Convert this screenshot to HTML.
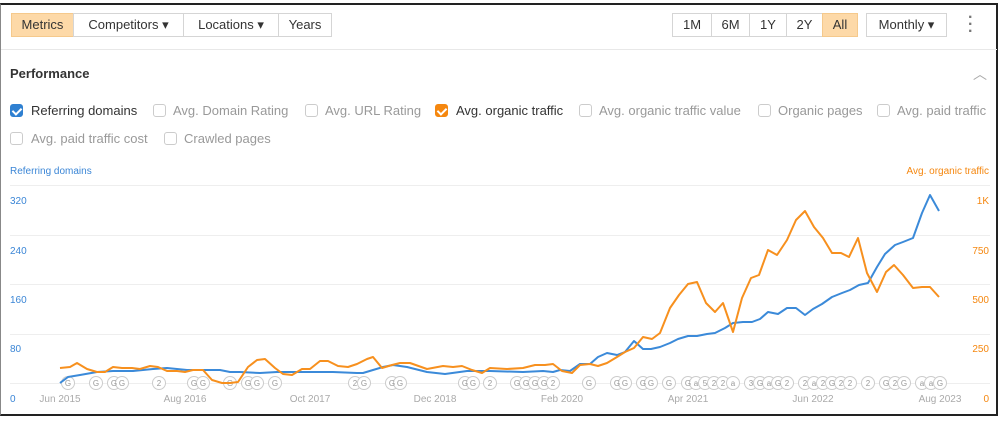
<!DOCTYPE html>
<html><head><meta charset="utf-8"><style>
body{margin:0;width:1006px;height:422px;background:#fff;font-family:"Liberation Sans",Arial,sans-serif;overflow:hidden;position:relative}
.frame{position:absolute;left:0;top:3px;width:998px;height:413px;border:2px solid #222;border-left:1px solid #888;box-sizing:border-box}
.a{position:absolute;white-space:nowrap}
.btn{position:absolute;top:13px;height:24px;border:1px solid #d5d5d5;box-sizing:border-box;font-size:13px;color:#333;line-height:22px;text-align:center;background:#fff}
.on{background:#fdd9a8;border-color:#f5c98c}
.cb{position:absolute;width:13px;height:13px;border:1px solid #ccc;border-radius:3px;box-sizing:border-box;background:#fff}
.cb.b{background:#2f80d1;border-color:#2f80d1}
.cb.o{background:#f5870f;border-color:#f5870f}
.cb.b::after,.cb.o::after{content:"";position:absolute;left:3px;top:1px;width:4px;height:7px;border:solid #fff;border-width:0 2px 2px 0;transform:rotate(45deg)}
.lbl{position:absolute;font-size:13px;color:#999}
</style></head><body>
<div class="frame"></div>
<div class="btn on" style="left:11px;width:63px">Metrics</div>
<div class="btn" style="left:73px;width:111px">Competitors ▾</div>
<div class="btn" style="left:183px;width:96px">Locations ▾</div>
<div class="btn" style="left:278px;width:54px">Years</div>
<div class="btn" style="left:672px;width:40px">1M</div>
<div class="btn" style="left:711px;width:39px">6M</div>
<div class="btn" style="left:749px;width:38px">1Y</div>
<div class="btn" style="left:786px;width:37px">2Y</div>
<div class="btn on" style="left:822px;width:36px">All</div>
<div class="btn" style="left:866px;width:81px">Monthly ▾</div>
<div class="a" style="left:968px;top:14px;font-size:16px;color:#777;line-height:7px;font-weight:bold">·<br>·<br>·</div>
<div style="position:absolute;left:1px;top:49px;width:996px;height:1px;background:#e8e8e8"></div>
<div class="a" style="left:10px;top:66px;font-size:13px;font-weight:bold;color:#333">Performance</div>
<div class="a" style="left:973px;top:64px;font-size:14px;color:#aaa">︿</div>

<div class="cb b" style="left:10px;top:104px"></div><div class="lbl" style="left:31px;top:103px;color:#333">Referring domains</div>
<div class="cb" style="left:153px;top:104px"></div><div class="lbl" style="left:173px;top:103px">Avg. Domain Rating</div>
<div class="cb" style="left:305px;top:104px"></div><div class="lbl" style="left:325px;top:103px">Avg. URL Rating</div>
<div class="cb o" style="left:435px;top:104px"></div><div class="lbl" style="left:456px;top:103px;color:#333">Avg. organic traffic</div>
<div class="cb" style="left:579px;top:104px"></div><div class="lbl" style="left:599px;top:103px">Avg. organic traffic value</div>
<div class="cb" style="left:758px;top:104px"></div><div class="lbl" style="left:778px;top:103px">Organic pages</div>
<div class="cb" style="left:877px;top:104px"></div><div class="lbl" style="left:897px;top:103px">Avg. paid traffic</div>
<div class="cb" style="left:10px;top:132px"></div><div class="lbl" style="left:31px;top:131px">Avg. paid traffic cost</div>
<div class="cb" style="left:164px;top:132px"></div><div class="lbl" style="left:184px;top:131px">Crawled pages</div>

<svg width="1006" height="422" style="position:absolute;left:0;top:0" font-family="Liberation Sans, Arial, sans-serif">
<text x="10" y="174" font-size="10" fill="#3b86d6">Referring domains</text>
<text x="989" y="174" font-size="10" fill="#f5870f" text-anchor="end">Avg. organic traffic</text>
<g stroke="#eee" stroke-width="1">
<line x1="10" x2="990" y1="185.5" y2="185.5"/><line x1="10" x2="990" y1="235.5" y2="235.5"/>
<line x1="10" x2="990" y1="284.5" y2="284.5"/><line x1="10" x2="990" y1="334.5" y2="334.5"/>
<line x1="10" x2="990" y1="383.5" y2="383.5"/></g>
<g font-size="10" fill="#3b86d6"><text x="10" y="204">320</text><text x="10" y="254">240</text><text x="10" y="303">160</text><text x="10" y="352">80</text><text x="10" y="402">0</text></g>
<g font-size="10" fill="#f5870f" text-anchor="end"><text x="989" y="204">1K</text><text x="989" y="254">750</text><text x="989" y="303">500</text><text x="989" y="352">250</text><text x="989" y="402">0</text></g>
<g font-size="10" fill="#aaa" text-anchor="middle"><text x="60" y="402">Jun 2015</text><text x="185" y="402">Aug 2016</text><text x="310" y="402">Oct 2017</text><text x="435" y="402">Dec 2018</text><text x="562" y="402">Feb 2020</text><text x="688" y="402">Apr 2021</text><text x="813" y="402">Jun 2022</text><text x="940" y="402">Aug 2023</text></g>
<g id="circ" fill="#fff" stroke="#ccc"></g>
<g id="ctx" font-size="8" fill="#999" text-anchor="middle"></g>
<script>
var d=[[68,'G'],[96,'G'],[114,'G'],[122,'G'],[159,'2'],[194,'G'],[203,'G'],[230,'G'],[248,'G'],[257,'G'],[275,'G'],[355,'2'],[364,'G'],[392,'G'],[400,'G'],[465,'G'],[473,'G'],[490,'2'],[517,'G'],[526,'G'],[535,'G'],[544,'G'],[553,'2'],[589,'G'],[617,'G'],[625,'G'],[643,'G'],[651,'G'],[669,'G'],[688,'G'],[696,'a'],[705,'5'],[714,'2'],[723,'2'],[733,'a'],[751,'3'],[760,'G'],[769,'a'],[778,'G'],[787,'2'],[805,'2'],[814,'a'],[823,'2'],[832,'G'],[841,'2'],[850,'2'],[868,'2'],[886,'G'],[895,'2'],[904,'G'],[922,'a'],[931,'a'],[940,'G']];
var ns='http://www.w3.org/2000/svg',c=document.getElementById('circ'),t=document.getElementById('ctx');
d.forEach(function(p){var e=document.createElementNS(ns,'circle');e.setAttribute('cx',p[0]);e.setAttribute('cy',383);e.setAttribute('r',6.5);c.appendChild(e);
var x=document.createElementNS(ns,'text');x.setAttribute('x',p[0]);x.setAttribute('y',386);x.textContent=p[1];t.appendChild(x);});
</script>
<polyline fill="none" stroke="#3b8ad9" stroke-width="2" stroke-linejoin="round" points="60,383 68,377 80,375 97,372 113,371 133,371 153,369 167,368 187,370 207,370 220,370 230,372 240,372 260,373 277,372 300,372 333,372 357,373 363,373 373,370 383,367 393,365 407,367 427,372 445,374 467,371 490,371 523,372 543,371 553,372 560,370 570,371 580,364 590,364 598,357 607,353 617,355 625,352 634,341 643,349 651,349 660,347 670,343 678,339 688,336 697,336 707,334 715,333 725,328 733,323 743,322 752,322 760,319 768,312 778,314 787,308 796,308 805,315 813,309 822,304 832,297 842,293 850,290 859,285 868,283 877,267 885,254 895,245 903,242 913,238 922,213 930,195 939,211"/>
<polyline fill="none" stroke="#f7901e" stroke-width="2" stroke-linejoin="round" points="60,368 70,367 77,363 87,369 97,372 105,372 113,367 122,368 132,368 140,369 150,366 158,367 167,371 177,371 185,372 193,370 203,370 212,380 222,383 230,383 238,382 248,367 257,360 265,359 275,368 283,374 292,375 302,369 310,369 320,361 328,361 338,366 348,367 357,364 367,359 373,357 382,368 392,365 400,363 410,363 427,369 443,366 453,367 462,366 472,370 482,373 490,368 507,369 523,368 535,365 545,365 553,364 562,371 572,373 580,365 590,364 598,366 607,363 617,357 625,352 634,348 643,337 652,339 660,333 670,308 679,295 688,284 697,282 706,303 715,312 723,303 733,332 742,298 751,278 759,275 768,250 777,255 787,240 796,220 805,211 814,227 823,238 832,253 841,253 849,257 858,238 867,273 877,292 886,272 894,265 903,275 913,288 922,287 930,287 939,297"/>
</svg>
</body></html>
